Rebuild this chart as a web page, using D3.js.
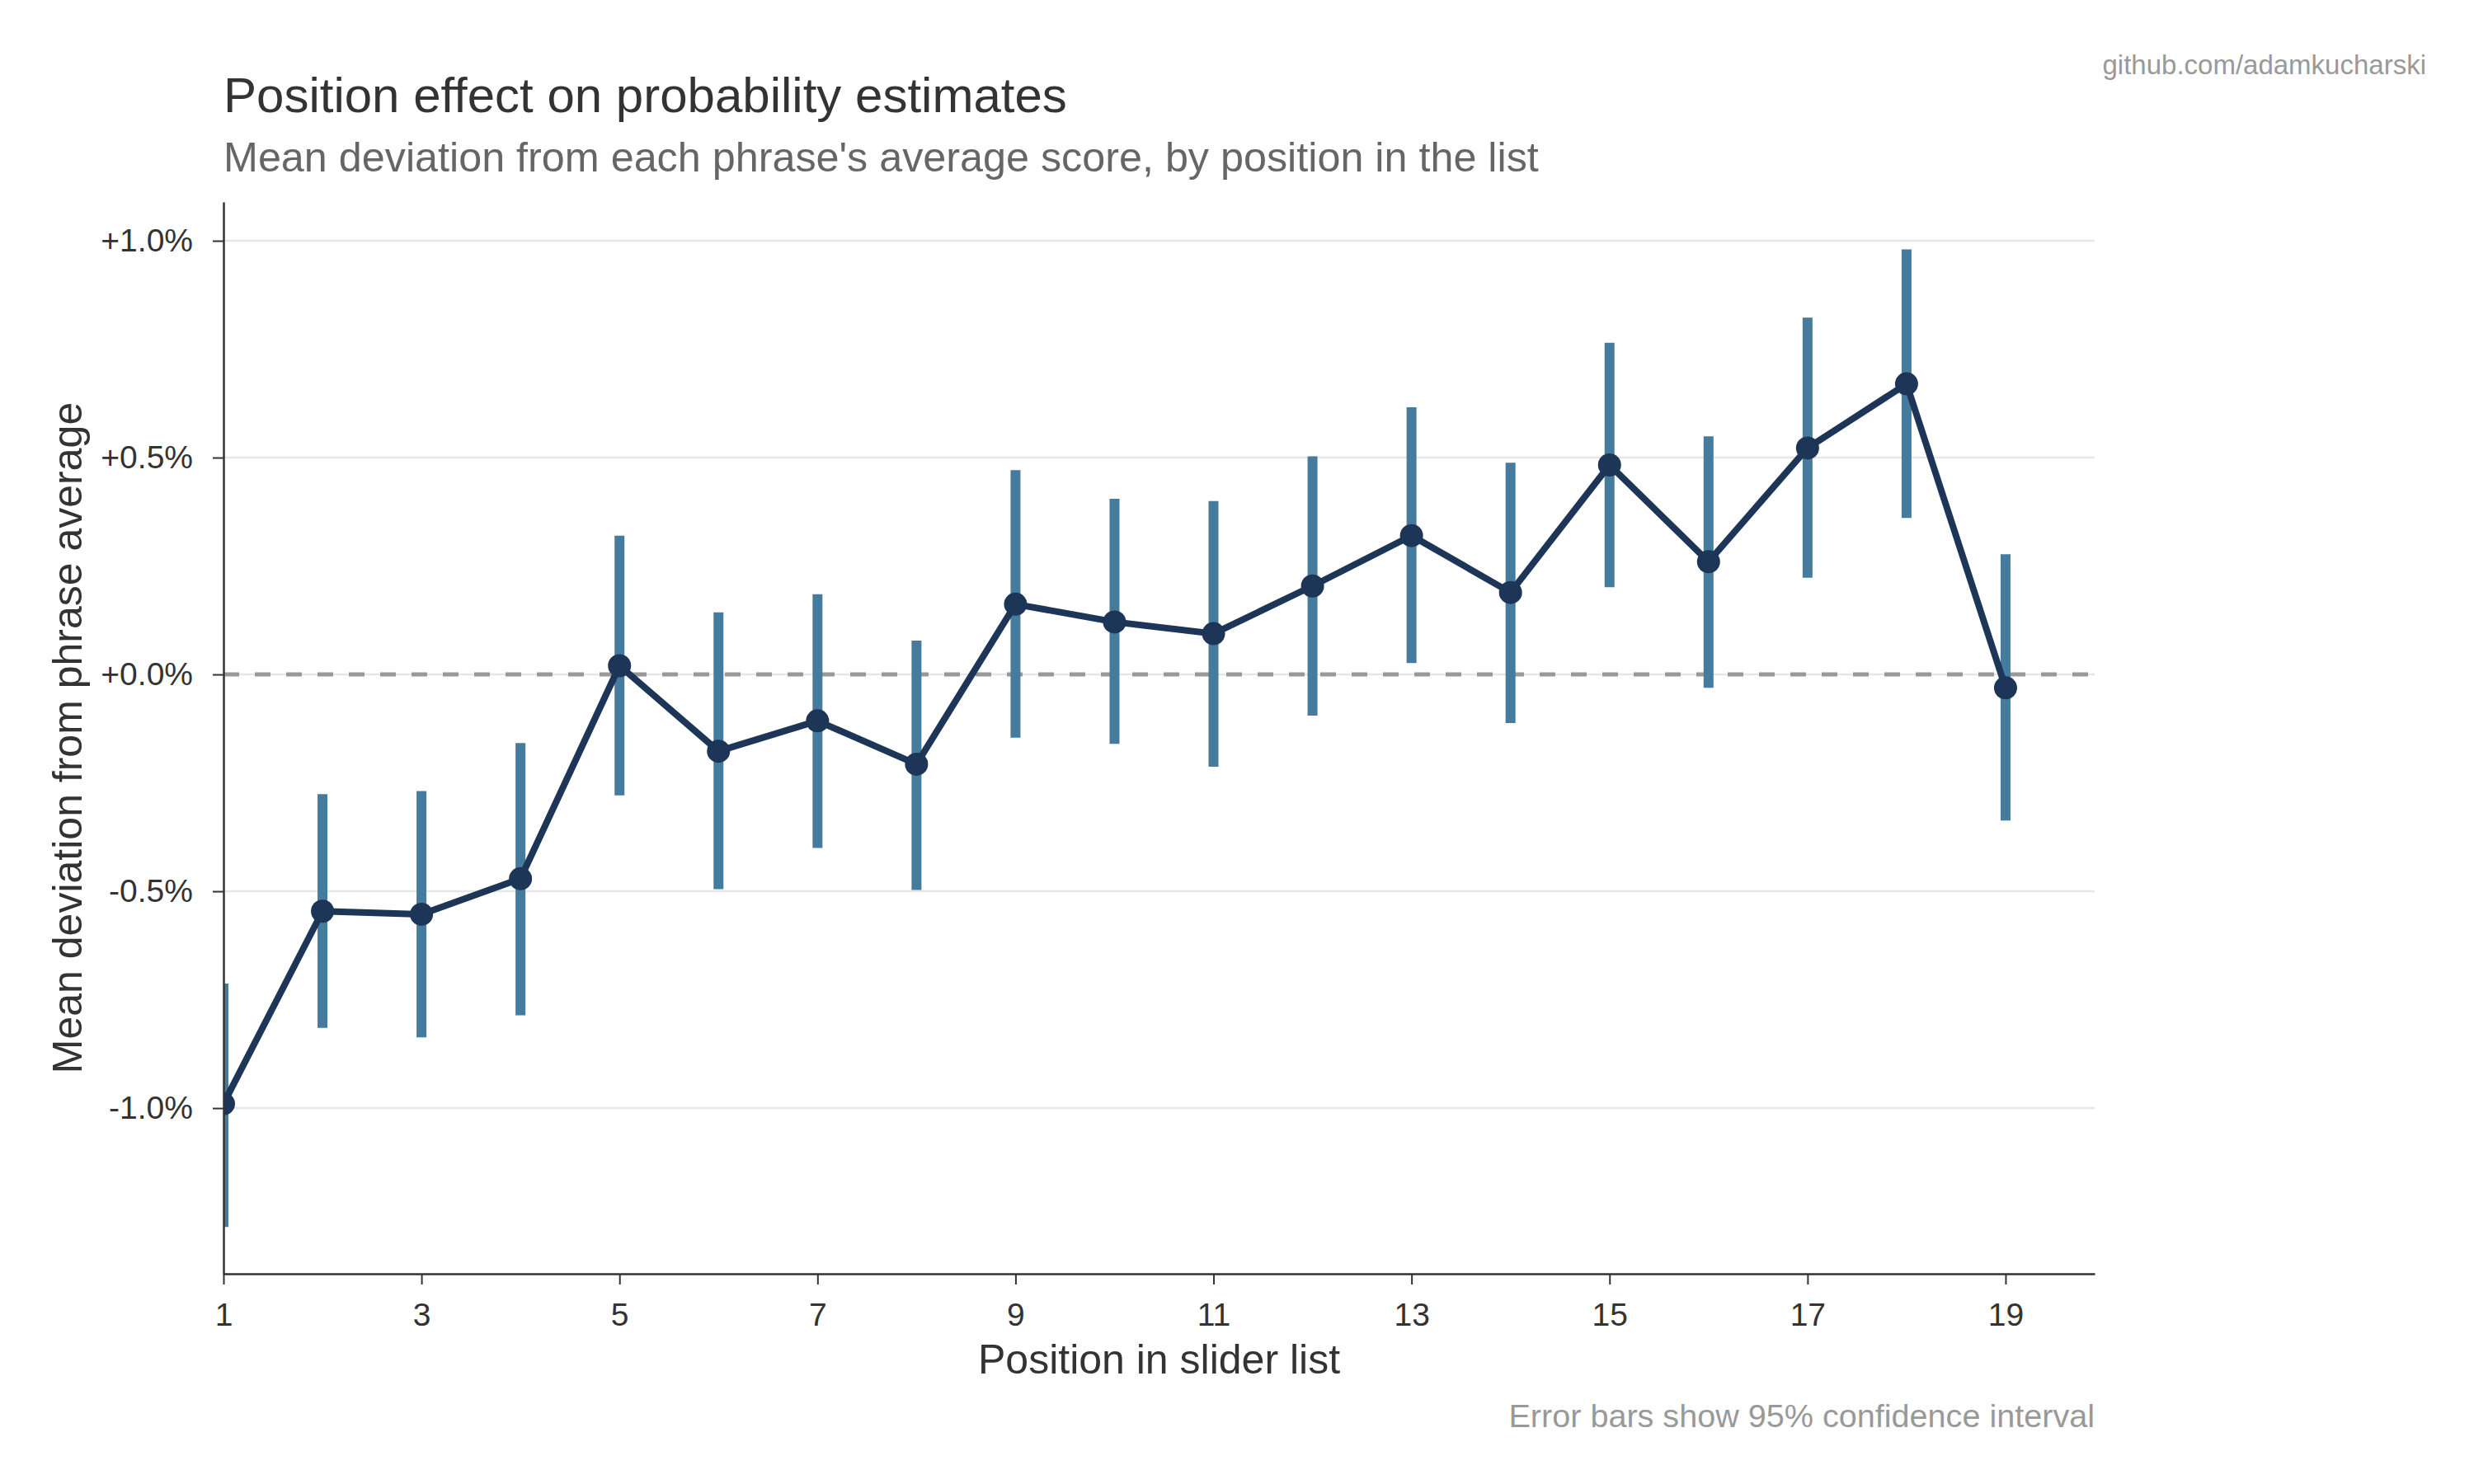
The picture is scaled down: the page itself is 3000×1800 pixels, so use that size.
<!DOCTYPE html>
<html>
<head>
<meta charset="utf-8">
<script src="https://cdn.jsdelivr.net/npm/d3@7"></script>
<style>
    html, body { margin: 0; padding: 0; background: #ffffff; }
    text { font-family: "Liberation Sans", Arial, Helvetica, sans-serif; }
</style>
</head>
<body>
<div id="chart"></div>
<script>
// Position in the slider list
const positions = [1, 2, 3, 4, 5, 6, 7, 8, 9, 10, 11, 12, 13, 14, 15, 16, 17, 18, 19];

// Mean deviation from phrase average (%)
const meanDev = [-0.990, -0.546, -0.553, -0.471, 0.020, -0.177, -0.107, -0.207, 0.162, 0.121,
                 0.094, 0.204, 0.320, 0.189, 0.483, 0.260, 0.522, 0.670, -0.031];

// 95% confidence interval bounds (%)
const ciLow = [-1.274, -0.815, -0.837, -0.786, -0.279, -0.495, -0.400, -0.497, -0.146, -0.160,
               -0.213, -0.095, 0.026, -0.112, 0.201, -0.031, 0.223, 0.361, -0.337];
const ciHigh = [-0.713, -0.276, -0.269, -0.158, 0.320, 0.143, 0.185, 0.078, 0.471, 0.405,
                0.400, 0.503, 0.616, 0.488, 0.765, 0.549, 0.823, 0.980, 0.277];

// Axis ticks
const xTicks = [1, 3, 5, 7, 9, 11, 13, 15, 17, 19];
const yTicks = [1.0, 0.5, 0.0, -0.5, -1.0];
const yTickLabels = ["+1.0%", "+0.5%", "+0.0%", "-0.5%", "-1.0%"];

const data = positions.map((p, i) => ({
    pos: p,
    mean: meanDev[i],
    lo: ciLow[i],
    hi: ciHigh[i]
}));

// Layout
const W = 3000, H = 1800;
const margin = { top: 245, right: 460, bottom: 255, left: 271 };
const width = W - margin.left - margin.right;
const height = H - margin.top - margin.bottom;

const svg = d3.select("#chart").append("svg")
    .attr("width", W)
    .attr("height", H);

// Clip marks to the plot area (the first point sits on the left spine)
svg.append("defs").append("clipPath")
    .attr("id", "plot-clip")
    .append("rect")
    .attr("x", 0)
    .attr("y", 0)
    .attr("width", width)
    .attr("height", height);

const g = svg.append("g")
    .attr("transform", `translate(${margin.left},${margin.top})`);

// Scales
const x = d3.scaleLinear().domain([1, 19.9]).range([0, width]);
const y = d3.scaleLinear().domain([-1.382, 1.0894]).range([height, 0]);

// Gridlines
g.selectAll(".grid")
    .data(yTicks)
    .enter()
    .append("line")
    .attr("class", "grid")
    .attr("x1", 0)
    .attr("x2", width)
    .attr("y1", d => y(d))
    .attr("y2", d => y(d))
    .attr("stroke", "#e6e6e6")
    .attr("stroke-width", 2.5);

// Zero reference line
g.append("line")
    .attr("x1", 0)
    .attr("x2", width)
    .attr("y1", y(0))
    .attr("y2", y(0))
    .attr("stroke", "#999999")
    .attr("stroke-width", 5)
    .attr("stroke-dasharray", "19 19");

const marks = g.append("g").attr("clip-path", "url(#plot-clip)");

// Error bars
marks.selectAll(".err")
    .data(data)
    .enter()
    .append("line")
    .attr("class", "err")
    .attr("x1", d => x(d.pos))
    .attr("x2", d => x(d.pos))
    .attr("y1", d => y(d.lo))
    .attr("y2", d => y(d.hi))
    .attr("stroke", "#457b9d")
    .attr("stroke-width", 12);

// Mean line
const line = d3.line()
    .x(d => x(d.pos))
    .y(d => y(d.mean));

marks.append("path")
    .datum(data)
    .attr("d", line)
    .attr("fill", "none")
    .attr("stroke", "#1d3557")
    .attr("stroke-width", 8)
    .attr("stroke-linejoin", "round");

// Markers
marks.selectAll(".dot")
    .data(data)
    .enter()
    .append("circle")
    .attr("class", "dot")
    .attr("cx", d => x(d.pos))
    .attr("cy", d => y(d.mean))
    .attr("r", 14)
    .attr("fill", "#1d3557");

// Axes
const xAxis = g.append("g")
    .attr("transform", `translate(0,${height})`)
    .call(d3.axisBottom(x).tickValues(xTicks).tickSize(13).tickPadding(22).tickSizeOuter(0));

const yAxis = g.append("g")
    .call(d3.axisLeft(y).tickValues(yTicks).tickFormat((d, i) => yTickLabels[i])
        .tickSize(13).tickPadding(24).tickSizeOuter(0));

[xAxis, yAxis].forEach(ax => {
    ax.select(".domain").attr("stroke", "#333333").attr("stroke-width", 2.5);
    ax.selectAll(".tick line").attr("stroke", "#333333").attr("stroke-width", 2);
    ax.selectAll(".tick text")
        .attr("fill", "#333333")
        .style("font-size", "39px")
        .style("font-family", '"Liberation Sans", Arial, sans-serif');
});

// Axis titles
svg.append("text")
    .attr("x", margin.left + width / 2)
    .attr("y", 1666)
    .attr("text-anchor", "middle")
    .attr("fill", "#333333")
    .style("font-size", "50px")
    .text("Position in slider list");

svg.append("text")
    .attr("transform", `translate(99, ${margin.top + height / 2}) rotate(-90)`)
    .attr("text-anchor", "middle")
    .attr("fill", "#333333")
    .style("font-size", "50px")
    .text("Mean deviation from phrase average");

// Title and subtitle
svg.append("text")
    .attr("x", 271)
    .attr("y", 136)
    .attr("fill", "#333333")
    .style("font-size", "60px")
    .text("Position effect on probability estimates");

svg.append("text")
    .attr("x", 271)
    .attr("y", 208)
    .attr("fill", "#666666")
    .style("font-size", "50.3px")
    .text("Mean deviation from each phrase's average score, by position in the list");

// Watermark and footnote
svg.append("text")
    .attr("x", 2942)
    .attr("y", 90)
    .attr("text-anchor", "end")
    .attr("fill", "#999999")
    .style("font-size", "33px")
    .text("github.com/adamkucharski");

svg.append("text")
    .attr("x", margin.left + width)
    .attr("y", 1731)
    .attr("text-anchor", "end")
    .attr("fill", "#999999")
    .style("font-size", "39.6px")
    .text("Error bars show 95% confidence interval");
</script>
</body>
</html>
